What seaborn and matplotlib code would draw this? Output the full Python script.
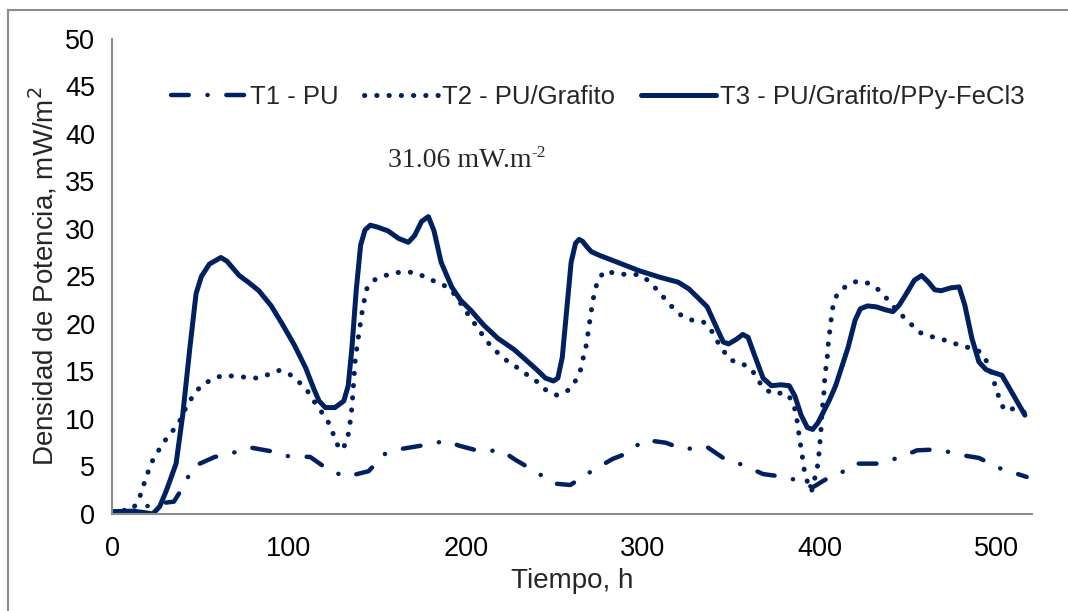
import numpy as np
import matplotlib
matplotlib.use("Agg")
import matplotlib.pyplot as plt
from matplotlib.patches import Rectangle
import pandas as pd
import seaborn as sns

# --- datos ---
t1_h = [0, 10, 16, 22, 35, 40, 46, 58, 66, 78, 90, 99, 112, 122, 132, 145, 154, 162, 175,
        189, 196, 208, 220, 228, 239, 250, 259, 271, 283, 290, 301, 313, 323, 336, 347,
        356, 368, 380, 388, 396, 403, 412, 419, 433, 446, 455, 467, 480, 490, 502, 517]
t1_p = [0.2, 0.2, 0.5, 1.0, 1.3, 2.8, 5.0, 6.0, 6.3, 7.0, 6.6, 6.1, 6.0, 4.7, 3.9, 4.5, 6.3,
        6.8, 7.2, 7.7, 7.2, 6.6, 6.7, 5.7, 4.5, 3.2, 3.05, 4.5, 5.8, 6.3, 7.8, 7.5, 6.8,
        7.1, 5.7, 5.2, 4.2, 3.9, 3.5, 2.8, 3.6, 4.3, 5.3, 5.3, 6.0, 6.7, 6.8, 6.2, 5.9,
        4.8, 3.9]

t2_h = [0, 11.8, 15.6, 17.4, 22, 25, 28.7, 32.5, 37, 42.8, 46.5, 50.3, 55.9, 62.5, 69,
        75.6, 82, 88.7, 94.4, 100.4, 105.6, 110.3, 114, 117.8, 121.6, 124.4, 126.3,
        129.6, 132.8, 134, 135, 135.6, 136.6, 137.5, 139.4, 141.3, 142.6, 144, 147.8,
        154.4, 160.6, 167, 173, 179.4, 185.4, 191, 195.3, 199, 206.6, 210.3, 214.4,
        219, 224, 230, 235, 240.4, 245.5, 251.5, 257.6, 261.6, 264.6, 266, 267.7,
        268.7, 269.7, 270.7, 271.7, 273, 274.7, 278.8, 284.8, 291.5, 298, 303.6, 308,
        317, 321.8, 327.9, 334.3, 338.8, 342, 345.5, 349.5, 355.6, 361.6, 365, 368.7,
        374, 380, 384.4, 386.3, 387.5, 388.3, 389.3, 390.3, 391.3, 393, 395.4, 397,
        398.6, 399.4, 400, 400.6, 401.4, 402.2, 403, 404, 404.6, 405, 406, 406.7,
        407.7, 410, 415, 421, 427.3, 433.3, 437.8, 441.8, 446.5, 451.5, 456.6, 462.6,
        469, 475.4, 481.8, 488, 492.3, 495.6, 497.6, 499.6, 501.6, 504.4, 510, 517]
t2_p = [0.2, 0.5, 1.75, 2.8, 5.3, 6.3, 7.4, 8.4, 9.3, 11.6, 12.6, 13.5, 14.1, 14.6, 14.5,
        14.4, 14.3, 14.7, 15.1, 14.7, 13.9, 13.0, 11.9, 10.9, 9.9, 8.8, 7.6, 6.7, 7.6,
        8.9, 10.2, 11.3, 13.9, 16.3, 18.8, 21.2, 22.5, 23.7, 24.6, 25.1, 25.4, 25.5,
        25.3, 24.7, 24.3, 23.7, 22.7, 21.6, 19.6, 18.6, 17.6, 16.8, 16.0, 15.3, 14.6,
        13.9, 13.0, 12.5, 13.0, 13.9, 15.0, 16.2, 17.4, 18.6, 19.9, 21.1, 22.4, 23.5,
        24.7, 25.6, 25.3, 25.2, 25.2, 24.5, 23.6, 21.7, 20.9, 20.4, 20.2, 19.3, 18.2,
        17.2, 16.2, 15.9, 15.2, 14.1, 13.2, 12.6, 12.8, 12.0, 10.8, 9.5, 8.3, 7.1,
        5.9, 4.6, 3.4, 2.4, 3.6, 4.8, 6.0, 7.3, 8.5, 11.0, 12.3, 14.7, 16.0, 17.2,
        18.4, 19.6, 20.9, 22.1, 23.2, 24.0, 24.5, 24.3, 23.6, 22.7, 21.8, 20.9, 20.0,
        19.1, 18.7, 18.4, 18.0, 17.6, 17.4, 16.8, 15.6, 14.4, 13.3, 12.1, 10.9, 11.1,
        10.6]

t3_h = [0, 11.8, 18, 23, 27, 31, 36.2, 40, 44, 47.5,
        50.5, 55, 61.5, 65, 71.9, 77, 83, 90, 96.2, 103,
        109.4, 114, 117, 120.6, 126, 131, 133.5, 135.6, 138, 140.5,
        143, 146, 150, 156, 162, 167.5, 171, 175, 178.8, 182,
        186, 192, 197, 203, 210, 218, 227.3, 234, 240, 245,
        249.5, 252, 254.5, 257, 259.5, 262, 264, 266, 268.5, 271,
        275.8, 287, 298, 310, 320, 326, 331, 336.4, 342, 345.5,
        348.5, 353, 356.5, 359.5, 363, 368, 372.7, 378, 382.8, 386,
        389.5, 393, 396, 399, 402, 405.5, 409, 416, 420, 423,
        427, 432, 437, 441.4, 445, 449, 453.5, 457.6, 461, 465,
        468.7, 474, 478.8, 482, 486, 490, 494, 498, 503, 508,
        516]
t3_p = [0.25, 0.3, 0.15, 0.0, 0.8, 2.6, 5.3, 10.5, 17.5, 23.2,
        25.0, 26.3, 27.0, 26.6, 25.1, 24.4, 23.5, 21.9, 20.0, 17.8,
        15.4, 13.2, 11.9, 11.2, 11.2, 11.9, 13.5, 17.5, 23.5, 28.3,
        29.9, 30.4, 30.2, 29.8, 29.0, 28.6, 29.3, 30.8, 31.3, 29.8,
        26.5, 23.9, 22.5, 21.4, 19.9, 18.5, 17.3, 16.2, 15.2, 14.3,
        14.0, 14.3, 16.5, 21.5, 26.5, 28.5, 28.9, 28.7, 28.1, 27.6,
        27.2, 26.4, 25.6, 24.9, 24.4, 23.7, 22.8, 21.8, 19.5, 18.1,
        17.9, 18.4, 18.9, 18.6, 16.8, 14.3, 13.5, 13.6, 13.5, 12.4,
        10.4, 9.1, 8.9, 9.6, 10.7, 12.0, 13.5, 17.5, 20.4, 21.6,
        21.9, 21.8, 21.5, 21.3, 22.0, 23.2, 24.6, 25.1, 24.5, 23.6,
        23.5, 23.8, 23.9, 22.0, 18.5, 16.0, 15.2, 14.9, 14.6, 13.0,
        10.4]

labels = ["T1 - PU", "T2 - PU/Grafito", "T3 - PU/Grafito/PPy-FeCl3"]
x_ticks = [0, 100, 200, 300, 400, 500]
y_ticks = list(range(0, 51, 5))

navy = "#002060"
grey = "#8c8c8c"

sns.set_theme(style="white")
plt.rcParams["font.family"] = ["Liberation Sans", "DejaVu Sans"]

fig = plt.figure(figsize=(10.68, 6.11), dpi=100)
# marco del grafico (solo visible arriba y a la izquierda)
fig.patches.append(Rectangle((8 / 1068, -0.05), 1.2, 1.05 - 10 / 611, transform=fig.transFigure,
                             fill=False, edgecolor=grey, linewidth=1.5))
ax = fig.add_axes([0.1049, 0.1588, 0.8614, 0.7774])

sns.lineplot(x=t1_h, y=t1_p, ax=ax, color=navy, lw=3.2, label=labels[0],
             linestyle=(0, (4, 4.2, 0.05, 4.2)), dash_capstyle="round", sort=False)
sns.lineplot(x=t2_h, y=t2_p, ax=ax, color=navy, lw=3.6, label=labels[1],
             linestyle=(0, (0.05, 2.4)), dash_capstyle="round", sort=False)
sns.lineplot(x=t3_h, y=t3_p, ax=ax, color=navy, lw=3.6, label=labels[2],
             solid_capstyle="round", solid_joinstyle="round", sort=False)

ax.set_xlim(0, 520)
ax.set_ylim(0, 50)
ax.set_xticks(x_ticks)
ax.set_yticks(y_ticks)
ax.tick_params(axis="both", labelsize=19.5, colors="black", length=6, width=1.3,
               color=grey, direction="out", pad=6)
ax.tick_params(axis="x", pad=10)
for s in ["top", "right"]:
    ax.spines[s].set_visible(False)
for s in ["left", "bottom"]:
    ax.spines[s].set_color(grey)
    ax.spines[s].set_linewidth(1.5)

ax.set_xlabel("Tiempo, h", fontsize=20)
ax.set_ylabel("Densidad de Potencia, mW/m$^2$", fontsize=20, labelpad=4)

ax.legend(loc="center", bbox_to_anchor=(0.528, 0.878), ncol=3, frameon=False,
          fontsize=18.5, handlelength=2.9, handletextpad=0.15, columnspacing=1.0)

ax.text(0.300, 0.745, "31.06 mW.m", transform=ax.transAxes,
        fontsize=20, family="Liberation Serif", va="center", ha="left")
ax.text(0.456, 0.760, "-2", transform=ax.transAxes,
        fontsize=12.5, family="Liberation Serif", va="center", ha="left")

fig.savefig("out.png", dpi=100)
